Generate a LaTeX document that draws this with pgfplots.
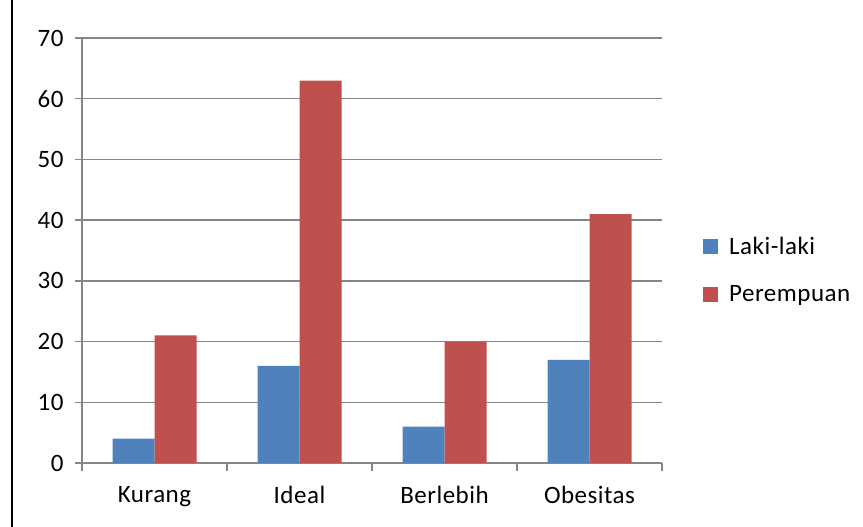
\documentclass[border=0pt]{standalone}
\usepackage{fontspec}
\setmainfont[LetterSpace=2]{Carlito}
\usepackage{pgfplots}
\pgfplotsset{compat=1.18}
\definecolor{lblue}{HTML}{4F81BD}
\definecolor{lred}{HTML}{C0504D}
\definecolor{axgray}{HTML}{868686}
\begin{document}
\begin{tikzpicture}[x=1pt,y=1pt]
\useasboundingbox (0,0) rectangle (863,527);
\draw[black, line width=1.6pt] (12,0) -- (12,527);
\begin{axis}[
  at={(82pt,64pt)}, anchor=south west,
  scale only axis, width=580pt, height=425pt,
  xmin=-0.5, xmax=3.5, ymin=0, ymax=70,
  ybar=0pt, bar width=42pt,
  axis lines*=left,
  axis line style={axgray, line width=1.3pt},
  xtick={0,1,2,3},
  xticklabels={Kurang, Ideal, Berlebih, Obesitas},
  minor xtick={-0.5,0.5,1.5,2.5,3.5},
  ytick={0,10,...,70},
  tick align=outside,
  major tick length=7pt, minor tick length=8pt,
  major x tick style={draw=none},
  tick style={axgray, line width=1.3pt},
  ymajorgrids,
  grid style={axgray, line width=1.3pt},
  /pgf/number format/assume math mode=true,
  ticklabel style={font=\fontsize{25}{30}\selectfont},
  yticklabel style={xshift=-8pt},
  xticklabel style={yshift=-13pt},
  legend style={at={(1.0707,0.454)}, anchor=west, draw=none, fill=none,
    font=\fontsize{25}{30}\selectfont, row sep=26pt, inner sep=0pt,
    /tikz/every odd column/.append style={column sep=9pt}},
  legend cell align=left,
  legend image code/.code={\fill[#1,draw=none] (0pt,-7.5pt) rectangle (15pt,7.5pt);},
]
\addplot[fill=lblue, draw=none] coordinates {(0,4) (1,16) (2,6) (3,17)};
\addplot[fill=lred, draw=none] coordinates {(0,21) (1,63) (2,20) (3,41)};
\legend{Laki-laki, Perempuan}
\end{axis}
\end{tikzpicture}
\end{document}
